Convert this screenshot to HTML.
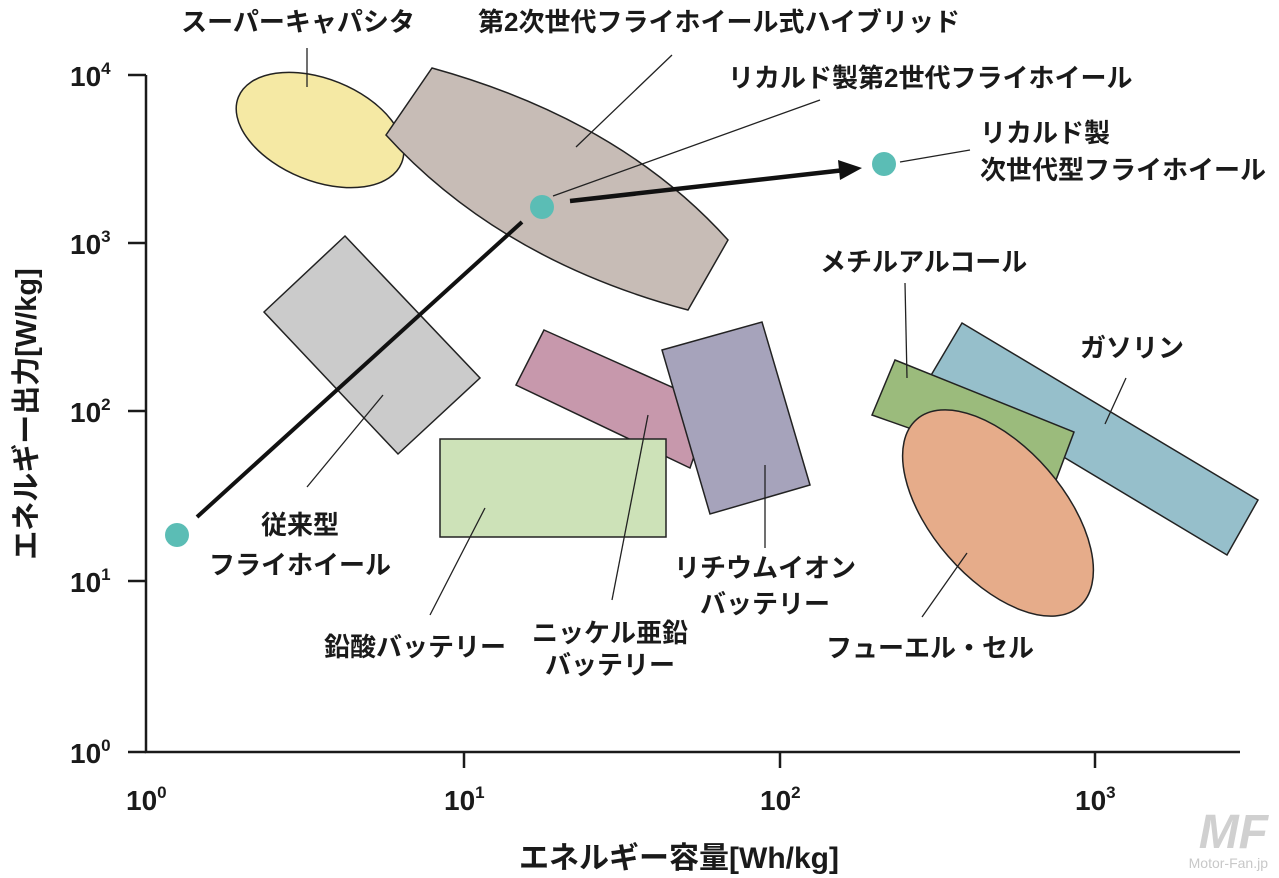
<!DOCTYPE html>
<html><head><meta charset="utf-8"><style>
html,body{margin:0;padding:0;background:#fff;width:1279px;height:878px;overflow:hidden}
svg text{font-family:"Liberation Sans","Noto Sans CJK JP",sans-serif;font-weight:bold;fill:#1a1a1a}
</style></head><body>
<svg width="1279" height="878" viewBox="0 0 1279 878" xmlns="http://www.w3.org/2000/svg">
<g stroke="#1a1a1a" stroke-width="2.5" fill="none">
<path d="M146,75 V752 H1240"/>
<path d="M128,75 H146 M128,243 H146 M128,411 H146 M128,581 H146 M128,752 H146"/>
<path d="M464,752 V768 M780,752 V768 M1095,752 V768"/>
</g>
<g font-size="28">
<text x="70" y="86">10<tspan font-size="17" dy="-12">4</tspan></text>
<text x="70" y="254">10<tspan font-size="17" dy="-12">3</tspan></text>
<text x="70" y="422">10<tspan font-size="17" dy="-12">2</tspan></text>
<text x="70" y="592">10<tspan font-size="17" dy="-12">1</tspan></text>
<text x="70" y="763">10<tspan font-size="17" dy="-12">0</tspan></text>
<text x="126" y="810">10<tspan font-size="17" dy="-12">0</tspan></text>
<text x="444" y="810">10<tspan font-size="17" dy="-12">1</tspan></text>
<text x="760" y="810">10<tspan font-size="17" dy="-12">2</tspan></text>
<text x="1075" y="810">10<tspan font-size="17" dy="-12">3</tspan></text>
</g>
<text x="679" y="868" font-size="30" text-anchor="middle">エネルギー容量[Wh/kg]</text>
<text transform="translate(36,414) rotate(-90)" font-size="29" text-anchor="middle">エネルギー出力[W/kg]</text>
<g stroke="#222" stroke-width="1.5">
<ellipse cx="320" cy="130" rx="88" ry="51" transform="rotate(22 320 130)" fill="#f5e9a4"/>
<path d="M432,68 Q620,120 728,240 L688,310 Q500,260 386,135 Z" fill="#c7bcb6"/>
<path d="M345,236 L480,378 L398,454 L264,312 Z" fill="#cbcbcb"/>
<path d="M544,330 L712,405 L690,468 L516,385 Z" fill="#c798ac"/>
<path d="M662,350 L762,322 L810,485 L710,514 Z" fill="#a6a3bb"/>
<rect x="440" y="439" width="226" height="98" fill="#cde2b8"/>
<path d="M962,323 L1258,500 L1227,555 L930,377 Z" fill="#96bfcb"/>
<path d="M895,360 L1074,432 L1056,480 L872,415 Z" fill="#9bbb7c"/>
<ellipse cx="998" cy="513" rx="124" ry="66" transform="rotate(49 998 513)" fill="#e6ac8a"/>
</g>
<g stroke="#222" stroke-width="1.3">
<line x1="307" y1="48" x2="307" y2="87"/>
<line x1="672" y1="55" x2="576" y2="147"/>
<line x1="820" y1="100" x2="553" y2="196"/>
<line x1="970" y1="150" x2="900" y2="162"/>
<line x1="905" y1="283" x2="907" y2="378"/>
<line x1="1126" y1="378" x2="1105" y2="424"/>
<line x1="383" y1="395" x2="307" y2="487"/>
<line x1="485" y1="508" x2="430" y2="615"/>
<line x1="648" y1="415" x2="612" y2="600"/>
<line x1="765" y1="465" x2="765" y2="548"/>
<line x1="967" y1="553" x2="922" y2="617"/>
</g>
<line x1="197" y1="517" x2="522" y2="222" stroke="#111" stroke-width="4"/>
<line x1="570" y1="201" x2="845" y2="170" stroke="#111" stroke-width="4.5"/>
<path d="M862,168 L838,160 L840,180 Z" fill="#111"/>
<g fill="#5bbdb5">
<circle cx="177" cy="535" r="12"/>
<circle cx="542" cy="207" r="12"/>
<circle cx="884" cy="164" r="12"/>
</g>
<g font-size="26">
<text x="298" y="31" text-anchor="middle">スーパーキャパシタ</text>
<text x="478" y="31">第2次世代フライホイール式ハイブリッド</text>
<text x="728" y="87">リカルド製第2世代フライホイール</text>
<text x="980" y="142">リカルド製</text>
<text x="980" y="179">次世代型フライホイール</text>
<text x="820" y="271">メチルアルコール</text>
<text x="1080" y="357">ガソリン</text>
<text x="300" y="534" text-anchor="middle">従来型</text>
<text x="300" y="574" text-anchor="middle">フライホイール</text>
<text x="415" y="656" text-anchor="middle">鉛酸バッテリー</text>
<text x="610" y="642" text-anchor="middle">ニッケル亜鉛</text>
<text x="610" y="674" text-anchor="middle">バッテリー</text>
<text x="765" y="577" text-anchor="middle">リチウムイオン</text>
<text x="765" y="613" text-anchor="middle">バッテリー</text>
<text x="930" y="657" text-anchor="middle">フューエル・セル</text>
</g>
<text x="1268" y="848" font-size="48" text-anchor="end" style="fill:#d0d0d0;font-style:italic">MF</text>
<text x="1268" y="868" font-size="14" text-anchor="end" style="fill:#c8c8c8;font-weight:normal">Motor-Fan.jp</text>
</svg>
</body></html>
